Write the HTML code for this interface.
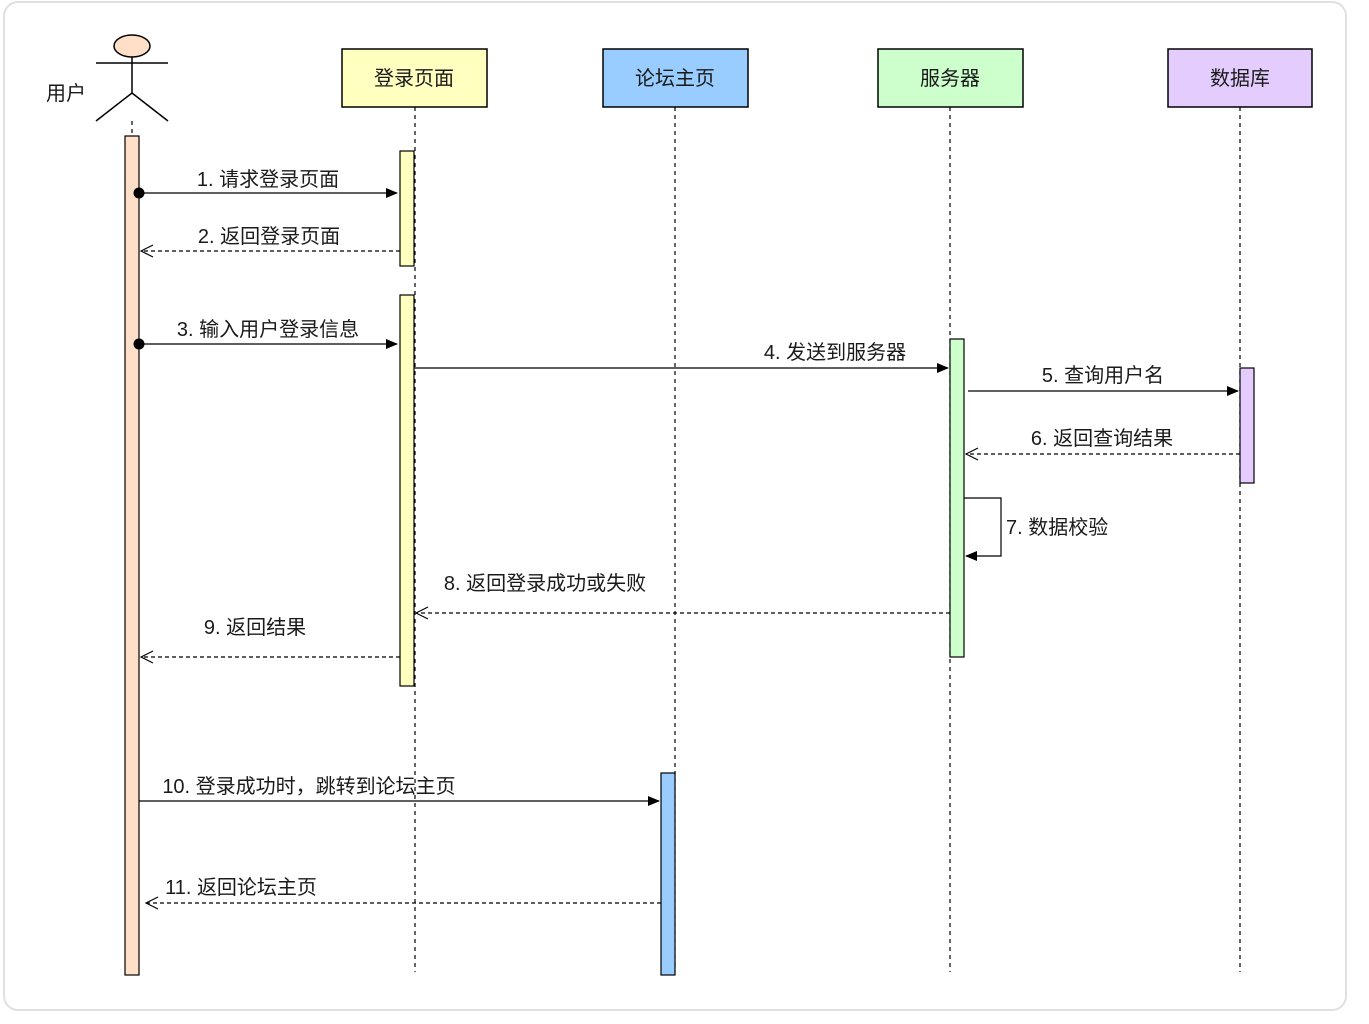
<!DOCTYPE html>
<html><head><meta charset="utf-8"><style>
html,body{margin:0;padding:0;background:#fff;}
svg{display:block;}
text{font-family:"Liberation Sans","Noto Sans CJK SC",sans-serif;font-size:20px;fill:#1a1a1a;}
</style></head><body>
<svg width="1369" height="1024" viewBox="0 0 1369 1024" xmlns="http://www.w3.org/2000/svg">
<defs>
<marker id="fa" markerWidth="12" markerHeight="10" refX="11" refY="5" orient="auto" markerUnits="userSpaceOnUse"><path d="M0,0 L12,5 L0,10 Z" fill="#000"/></marker>
<marker id="oa" markerWidth="14" markerHeight="14" refX="13" refY="7" orient="auto" markerUnits="userSpaceOnUse"><path d="M1,1 L13,7 L1,13" fill="none" stroke="#000" stroke-width="1.2"/></marker>
</defs>
<rect x="4" y="2" width="1342" height="1008" rx="14" fill="#fff" stroke="#e0e0e0" stroke-width="2"/>
<g stroke="#000" stroke-width="1.2" stroke-dasharray="4,4">
<line x1="132" y1="121" x2="132" y2="136"/>
<line x1="415" y1="107" x2="415" y2="972"/>
<line x1="675" y1="107" x2="675" y2="972"/>
<line x1="950" y1="107" x2="950" y2="972"/>
<line x1="1240" y1="107" x2="1240" y2="972"/>
</g>
<g stroke="#000" stroke-width="1.5" fill="none">
<ellipse cx="132" cy="46" rx="18" ry="11" fill="#ffdfc8"/>
<line x1="132" y1="57" x2="132" y2="93"/>
<line x1="96" y1="63" x2="168" y2="63"/>
<line x1="132" y1="93" x2="96" y2="121"/>
<line x1="132" y1="93" x2="168" y2="121"/>
</g>
<text x="66" y="100" text-anchor="middle">用户</text>
<g stroke="#000" stroke-width="1.5">
<rect x="342" y="49" width="145" height="58" fill="#ffffc0"/>
<rect x="603" y="49" width="145" height="58" fill="#99ccff"/>
<rect x="878" y="49" width="145" height="58" fill="#ccffcc"/>
<rect x="1168" y="49" width="144" height="58" fill="#e5ccff"/>
</g>
<text x="414" y="85" text-anchor="middle">登录页面</text>
<text x="675" y="85" text-anchor="middle">论坛主页</text>
<text x="950" y="85" text-anchor="middle">服务器</text>
<text x="1240" y="85" text-anchor="middle">数据库</text>
<g stroke="#000" stroke-width="1.2">
<rect x="125" y="136" width="14" height="839" fill="#ffdfc8"/>
<rect x="400" y="151" width="14" height="115" fill="#ffffc0"/>
<rect x="400" y="295" width="14" height="391" fill="#ffffc0"/>
<rect x="661" y="773" width="14" height="202" fill="#99ccff"/>
<rect x="950" y="339" width="14" height="318" fill="#ccffcc"/>
<rect x="1240" y="368" width="14" height="115" fill="#e5ccff"/>
</g>
<g stroke="#000" stroke-width="1.2" fill="none">
<line x1="139" y1="193" x2="397" y2="193" marker-end="url(#fa)"/>
<line x1="400" y1="251" x2="141" y2="251" stroke-dasharray="4,3" marker-end="url(#oa)"/>
<line x1="139" y1="344" x2="397" y2="344" marker-end="url(#fa)"/>
<line x1="414" y1="368" x2="948" y2="368" marker-end="url(#fa)"/>
<line x1="968" y1="391" x2="1238" y2="391" marker-end="url(#fa)"/>
<line x1="1240" y1="454" x2="966" y2="454" stroke-dasharray="4,3" marker-end="url(#oa)"/>
<polyline points="964,498 1001,498 1001,556 966,556" marker-end="url(#fa)"/>
<line x1="950" y1="613" x2="416" y2="613" stroke-dasharray="4,3" marker-end="url(#oa)"/>
<line x1="400" y1="657" x2="141" y2="657" stroke-dasharray="4,3" marker-end="url(#oa)"/>
<line x1="139" y1="801" x2="659" y2="801" marker-end="url(#fa)"/>
<line x1="661" y1="903" x2="146" y2="903" stroke-dasharray="4,3" marker-end="url(#oa)"/>
</g>
<circle cx="139" cy="193" r="5.5" fill="#000"/>
<circle cx="139" cy="344" r="5.5" fill="#000"/>
<text x="268" y="186" text-anchor="middle">1. 请求登录页面</text>
<text x="269" y="243" text-anchor="middle">2. 返回登录页面</text>
<text x="268" y="336" text-anchor="middle">3. 输入用户登录信息</text>
<text x="835" y="359" text-anchor="middle">4.  发送到服务器</text>
<text x="1103" y="382" text-anchor="middle">5. 查询用户名</text>
<text x="1102" y="445" text-anchor="middle">6. 返回查询结果</text>
<text x="1006" y="534">7. 数据校验</text>
<text x="545" y="590" text-anchor="middle">8. 返回登录成功或失败</text>
<text x="255" y="634" text-anchor="middle">9. 返回结果</text>
<text x="309" y="793" text-anchor="middle">10. 登录成功时，跳转到论坛主页</text>
<text x="241" y="894" text-anchor="middle">11. 返回论坛主页</text>
</svg>
</body></html>
